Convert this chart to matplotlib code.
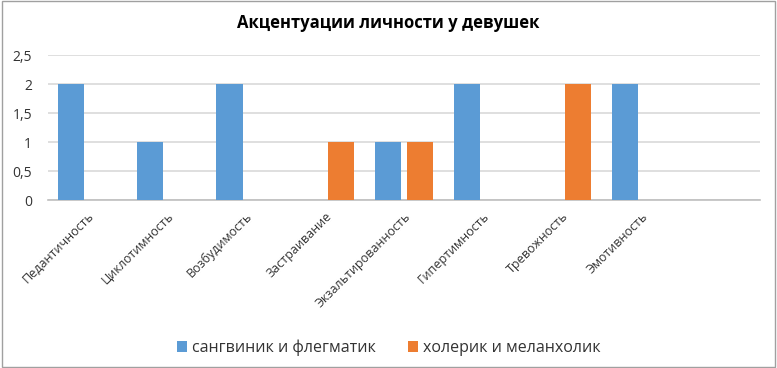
import numpy as np
import matplotlib.pyplot as plt
from matplotlib.patches import Rectangle

plt.rcParams['font.family'] = ['Open Sans', 'DejaVu Sans']

# data
categories = ['Педантичность', 'Циклотимность', 'Возбудимость', 'Застраивание',
              'Экзальтированность', 'Гипертимность', 'Тревожность', 'Эмотивность', '']
sangv_flegm = [2, 1, 2, 0, 1, 2, 0, 2, 0]
holer_melanh = [0, 0, 0, 1, 1, 0, 2, 0, 0]
yticks = [0, 0.5, 1, 1.5, 2, 2.5]
ytick_labels = ['0', '0,5', '1', '1,5', '2', '2,5']

BLUE = '#5B9BD5'
ORANGE = '#ED7D31'

fig = plt.figure(figsize=(7.77, 3.68), dpi=100)
ax = fig.add_axes([0.0618, 0.4565, 0.916, 0.394])

x = np.arange(len(categories))
w = 0.33
off = 0.205
ax.bar(x - off, sangv_flegm, w, color=BLUE, label='сангвиник и флегматик', zorder=3)
ax.bar(x + off, holer_melanh, w, color=ORANGE, label='холерик и меланхолик', zorder=3)

ax.set_xlim(-0.5, len(categories) - 0.5)
ax.set_ylim(0, 2.5)
ax.set_yticks(yticks)
ax.set_yticklabels(ytick_labels, fontsize=10, color='#333333')
ax.set_xticks(x)
ax.set_xticklabels(categories, rotation=45, ha='right', rotation_mode='anchor',
                   fontsize=9, color='#333333')
ax.tick_params(axis='both', length=0)
ax.tick_params(axis='x', pad=7)
ax.tick_params(axis='y', pad=11.5)

ax.grid(axis='y', color='#D9D9D9', linewidth=1.2, zorder=0)
for s in ['top', 'right', 'left']:
    ax.spines[s].set_visible(False)
ax.spines['bottom'].set_color('#BFBFBF')
ax.spines['bottom'].set_linewidth(1.2)

fig.text(0.5, 1 - 23 / 368, 'Акцентуации личности у девушек', ha='center', va='center',
         fontsize=12, fontweight='bold', color='black')

fig.legend(loc='center', bbox_to_anchor=(0.5, 1 - 348 / 368), ncol=2, frameon=False,
           fontsize=11.5, handlelength=0.65, handleheight=0.65, handletextpad=0.3,
           columnspacing=2.0, labelcolor='#333333')

# chart border
fig.patches.append(Rectangle((0.002, 0.002), 0.996, 0.996, transform=fig.transFigure,
                             fill=False, edgecolor='#A0A0A0', linewidth=1))

fig.savefig('out.png', dpi=100)
